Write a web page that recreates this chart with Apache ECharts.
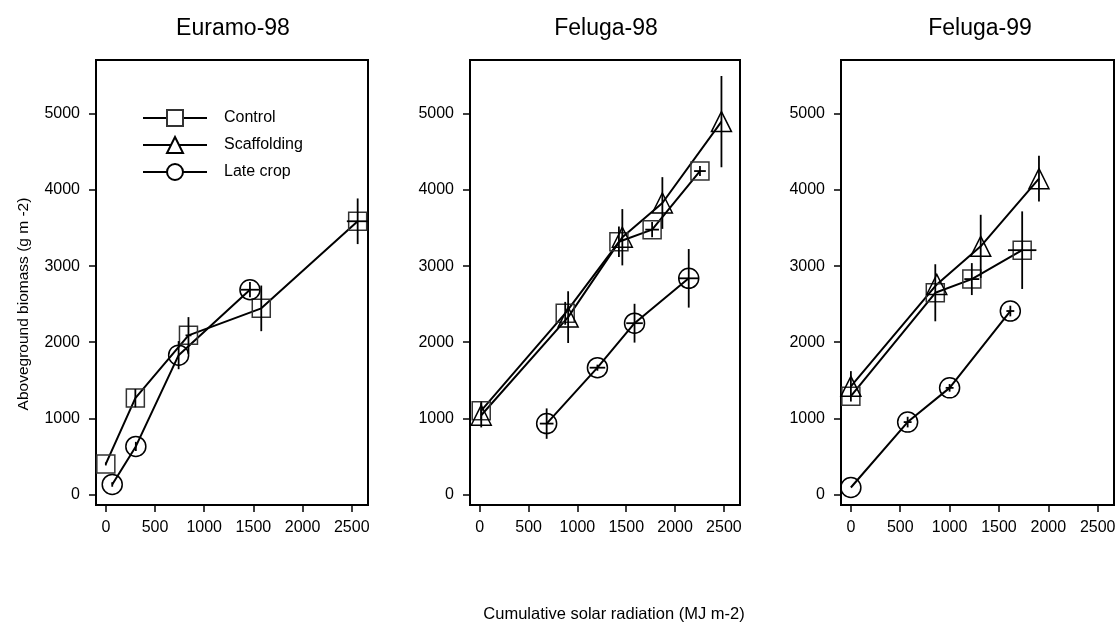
<!DOCTYPE html>
<html><head><meta charset="utf-8">
<script src="https://cdn.jsdelivr.net/npm/echarts@6/dist/echarts.min.js"></script>
<style>html,body{margin:0;padding:0;background:#fff}#c{width:1119px;height:624px}</style>
</head><body><div id="c"></div>
<script>
// ---- data (x: cumulative solar radiation MJ m-2, y: aboveground biomass g m-2) ----
const panelTitles = ['Euramo-98', 'Feluga-98', 'Feluga-99'];
const seriesNames = ['Control', 'Scaffolding', 'Late crop'];
const xTicks = [0, 500, 1000, 1500, 2000, 2500];
const yTicks = [0, 1000, 2000, 3000, 4000, 5000];

// Euramo-98
const eurControlX = [0, 300, 840, 1580, 2560];
const eurControlY = [400, 1265, 2090, 2445, 3590];
const eurControlXErr = [0, 0, 30, 0, 110];
const eurControlYErr = [20, 120, 240, 300, 300];
const eurLateX = [65, 305, 740, 1465];
const eurLateY = [130, 630, 1830, 2690];
const eurLateXErr = [0, 0, 0, 95];
const eurLateYErr = [30, 60, 185, 100];

// Feluga-98
const f98ControlX = [15, 875, 1425, 1765, 2255];
const f98ControlY = [1100, 2380, 3320, 3480, 4250];
const f98ControlXErr = [0, 0, 0, 70, 60];
const f98ControlYErr = [120, 150, 200, 100, 65];
const f98ScaffX = [15, 905, 1460, 1870, 2475];
const f98ScaffY = [1040, 2330, 3380, 3830, 4900];
const f98ScaffXErr = [0, 0, 0, 0, 0];
const f98ScaffYErr = [160, 340, 370, 340, 600];
const f98LateX = [685, 1205, 1585, 2140];
const f98LateY = [930, 1665, 2250, 2840];
const f98LateXErr = [70, 80, 85, 100];
const f98LateYErr = [200, 40, 255, 385];

// Feluga-99
const f99ControlX = [0, 855, 1225, 1735];
const f99ControlY = [1290, 2650, 2830, 3210];
const f99ControlXErr = [0, 0, 76, 144];
const f99ControlYErr = [0, 375, 210, 510];
const f99ScaffX = [0, 870, 1315, 1905];
const f99ScaffY = [1420, 2760, 3260, 4150];
const f99ScaffXErr = [0, 0, 0, 0];
const f99ScaffYErr = [200, 0, 415, 300];
const f99LateX = [0, 575, 1000, 1615];
const f99LateY = [90, 950, 1400, 2410];
const f99LateXErr = [0, 40, 40, 40];
const f99LateYErr = [0, 70, 50, 70];

// ---- build ----
const FONT = 'Liberation Sans, Arial, sans-serif';
const panels = [
  [ {name:'Control', x:eurControlX, y:eurControlY, ex:eurControlXErr, ey:eurControlYErr},
    {name:'Late crop', x:eurLateX, y:eurLateY, ex:eurLateXErr, ey:eurLateYErr} ],
  [ {name:'Control', x:f98ControlX, y:f98ControlY, ex:f98ControlXErr, ey:f98ControlYErr},
    {name:'Scaffolding', x:f98ScaffX, y:f98ScaffY, ex:f98ScaffXErr, ey:f98ScaffYErr},
    {name:'Late crop', x:f98LateX, y:f98LateY, ex:f98LateXErr, ey:f98LateYErr} ],
  [ {name:'Control', x:f99ControlX, y:f99ControlY, ex:f99ControlXErr, ey:f99ControlYErr},
    {name:'Scaffolding', x:f99ScaffX, y:f99ScaffY, ex:f99ScaffXErr, ey:f99ScaffYErr},
    {name:'Late crop', x:f99LateX, y:f99LateY, ex:f99LateXErr, ey:f99LateYErr} ]
];
const symbolOf = {'Control':'rect', 'Scaffolding':'triangle', 'Late crop':'circle'};
const symbolSizeOf = {'Control':18, 'Scaffolding':20, 'Late crop':20};
const strokeOf = {'Control':'#333', 'Scaffolding':'#000', 'Late crop':'#000'};

const gridDefs = [
  {left:96, top:60, width:272, height:445},
  {left:470, top:60, width:270, height:445},
  {left:841, top:60, width:273, height:445}
];
const titleCenters = [233, 606, 980];

const axisCommon = {
  type:'value',
  axisLine:{show:true, onZero:false, lineStyle:{color:'#000', width:2}},
  splitLine:{show:false},
  axisTick:{show:true, length:7, lineStyle:{color:'#000', width:1.5}},
};
const plainNum = v => String(v);

const grid = [], xAxis = [], yAxis = [], series = [];
gridDefs.forEach((g, i) => {
  grid.push(Object.assign({show:true, borderColor:'#000', borderWidth:2, backgroundColor:'transparent'}, g));
  xAxis.push(Object.assign({}, axisCommon, {
    gridIndex:i, min:-100, max:2665,
    axisTick:Object.assign({}, axisCommon.axisTick, {customValues:xTicks}),
    axisLabel:{customValues:xTicks, formatter:plainNum, margin:15, fontSize:16, color:'#000', fontFamily:FONT}
  }));
  yAxis.push(Object.assign({}, axisCommon, {
    gridIndex:i, min:-140, max:5710,
    axisTick:Object.assign({}, axisCommon.axisTick, {customValues:yTicks}),
    axisLabel:{customValues:yTicks, formatter:plainNum, margin:16, fontSize:16, color:'#000', fontFamily:FONT}
  }));
  panels[i].forEach(s => {
    const pts = s.x.map((v, k) => [v, s.y[k]]);
    series.push({
      type:'line', name:s.name, xAxisIndex:i, yAxisIndex:i, data:pts,
      symbol:symbolOf[s.name], symbolSize:symbolSizeOf[s.name],
      lineStyle:{color:'#000', width:2},
      itemStyle:{color:'rgba(255,255,255,0)', borderColor:strokeOf[s.name], borderWidth:1.5},
      emphasis:{disabled:true}, z:3
    });
    series.push({
      type:'custom', name:s.name + ' error', xAxisIndex:i, yAxisIndex:i,
      data:s.x.map((v, k) => [v, s.y[k], s.ex[k], s.ey[k]]),
      encode:{x:0, y:1}, z:4, silent:true,
      renderItem:(params, api) => {
        const x = api.value(0), y = api.value(1), ex = api.value(2), ey = api.value(3);
        const ch = [];
        if (ey > 0) {
          const a = api.coord([x, y - ey]), b = api.coord([x, y + ey]);
          ch.push({type:'line', shape:{x1:a[0], y1:a[1], x2:b[0], y2:b[1]}, style:{stroke:'#000', lineWidth:1.8}});
        }
        if (ex > 0) {
          const a = api.coord([x - ex, y]), b = api.coord([x + ex, y]);
          ch.push({type:'line', shape:{x1:a[0], y1:a[1], x2:b[0], y2:b[1]}, style:{stroke:'#000', lineWidth:1.8}});
        }
        return {type:'group', children:ch};
      }
    });
  });
});

const graphic = titleCenters.map((cx, i) => ({
  type:'text', x:cx, y:29,
  style:{text:panelTitles[i], font:'23px ' + FONT, fill:'#000', textAlign:'center', textVerticalAlign:'middle'}
}));
graphic.push({type:'text', x:24, y:304, rotation:Math.PI/2,
  style:{text:'Aboveground biomass (g m -2)', font:'15.5px ' + FONT, fill:'#000', textAlign:'center', textVerticalAlign:'middle'}});
graphic.push({type:'text', x:614, y:614,
  style:{text:'Cumulative solar radiation (MJ m-2)', font:'16.5px ' + FONT, fill:'#000', textAlign:'center', textVerticalAlign:'middle'}});

const chart = echarts.init(document.getElementById('c'), null, {renderer:'canvas'});
chart.setOption({
  animation:false,
  backgroundColor:'#fff',
  grid, xAxis, yAxis, series, graphic,
  legend:{
    data:seriesNames, orient:'vertical', left:137, top:104,
    itemWidth:64, itemHeight:20, itemGap:9,
    itemStyle:{color:'#fff'},
    textStyle:{fontSize:16, fontFamily:FONT, color:'#000', padding:[0,0,0,12]},
    selectedMode:false
  }
});
</script>
</body></html>
